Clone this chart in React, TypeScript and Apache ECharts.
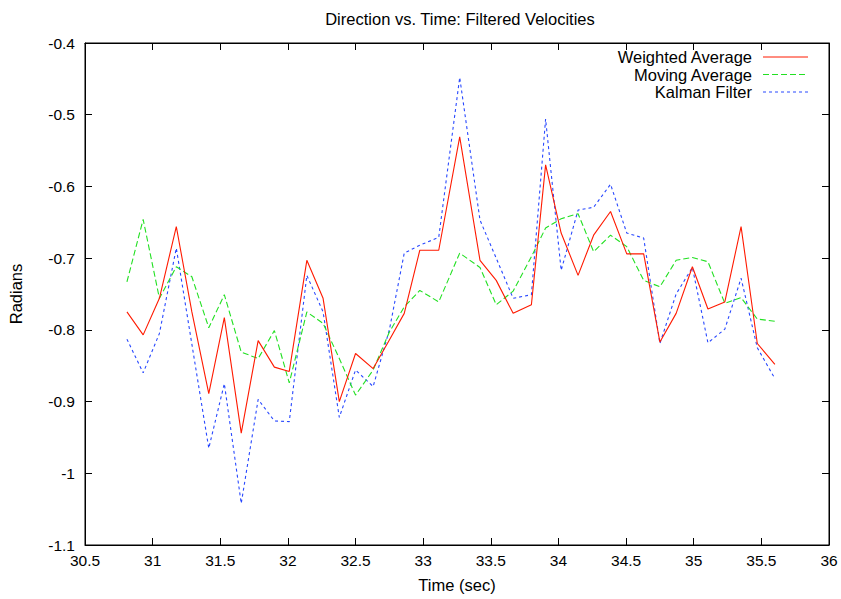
import React, { useEffect, useRef } from "react";
import * as echarts from "echarts";

const times = [
  30.81, 30.93, 31.05, 31.175, 31.29, 31.415, 31.53, 31.655, 31.78, 31.9,
  32.01, 32.14, 32.26, 32.38, 32.5, 32.63, 32.75, 32.86, 32.975, 33.115,
  33.27, 33.42, 33.54, 33.665, 33.8, 33.905, 34.02, 34.145, 34.26, 34.385,
  34.505, 34.63, 34.75, 34.87, 34.99, 35.105, 35.23, 35.35, 35.47, 35.6,
];

const weightedAverage = [
  -0.775, -0.807, -0.756, -0.656, -0.775, -0.889, -0.783, -0.944, -0.815, -0.852,
  -0.858, -0.703, -0.756, -0.9, -0.833, -0.854, -0.814, -0.777, -0.689, -0.689,
  -0.531, -0.703, -0.731, -0.777, -0.765, -0.57, -0.665, -0.724, -0.668, -0.635,
  -0.694, -0.694, -0.817, -0.777, -0.712, -0.771, -0.761, -0.656, -0.819, -0.848,
];

const movingAverage = [
  -0.733, -0.646, -0.756, -0.712, -0.726, -0.797, -0.751, -0.831, -0.84, -0.801,
  -0.874, -0.775, -0.791, -0.84, -0.891, -0.856, -0.803, -0.768, -0.745, -0.761,
  -0.693, -0.713, -0.765, -0.746, -0.698, -0.658, -0.645, -0.638, -0.691, -0.668,
  -0.684, -0.731, -0.74, -0.703, -0.699, -0.705, -0.763, -0.755, -0.785, -0.788,
];

const kalmanFilter = [
  -0.813, -0.86, -0.805, -0.686, -0.82, -0.965, -0.875, -1.042, -0.897, -0.927,
  -0.928, -0.724, -0.775, -0.922, -0.856, -0.879, -0.8, -0.693, -0.682, -0.671,
  -0.448, -0.647, -0.7, -0.756, -0.751, -0.506, -0.717, -0.633, -0.629, -0.597,
  -0.665, -0.672, -0.819, -0.75, -0.713, -0.818, -0.799, -0.728, -0.825, -0.868,
];

const xTicks = { min: 30.5, max: 36, interval: 0.5 };
const yTicks = { min: -1.1, max: -0.4, interval: 0.1 };

const seriesNames = ["Weighted Average", "Moving Average", "Kalman Filter"];
const seriesColors = ["#ff1a00", "#22e022", "#2848ff"];
const seriesDash: (string | number[])[] = ["solid", [6, 3], [3, 3]];

const FONT = "Liberation Sans, Arial, Helvetica, sans-serif";

export default function App() {
  const ref = useRef<HTMLDivElement>(null);

  useEffect(() => {
    if (!ref.current) return;
    const chart = echarts.init(ref.current, null, { renderer: "svg" });
    const allSeries = [weightedAverage, movingAverage, kalmanFilter];

    const legendGraphics: any[] = [];
    seriesNames.forEach((name, i) => {
      const y = 57 + i * 17.5;
      legendGraphics.push({
        type: "text",
        x: 752,
        y,
        style: {
          text: name,
          fill: "#000",
          font: `16.5px ${FONT}`,
          textAlign: "right",
          textVerticalAlign: "middle",
        },
      });
      legendGraphics.push({
        type: "line",
        shape: { x1: 763, y1: y, x2: 808, y2: y },
        style: {
          stroke: seriesColors[i],
          lineWidth: 1,
          lineDash: seriesDash[i] === "solid" ? null : (seriesDash[i] as number[]),
        },
      });
    });

    const fmtY = (v: number) => String(Math.round(v * 10) / 10);
    const fmtX = (v: number) => String(Math.round(v * 10) / 10);

    chart.setOption({
      animation: false,
      backgroundColor: "#fff",
      textStyle: { fontFamily: FONT },
      title: {
        text: "Direction vs. Time: Filtered Velocities",
        left: 455,
        top: 5,
        textAlign: "center",
        textStyle: { fontSize: 16.5, fontWeight: "normal", color: "#000", fontFamily: FONT },
      },
      grid: {
        left: 85,
        right: 12,
        top: 43,
        bottom: 54,
        show: true,
        borderColor: "#000",
        borderWidth: 1,
        backgroundColor: "transparent",
        outerBoundsMode: "none",
        containLabel: false,
      },
      xAxis: [
        {
          type: "value",
          min: xTicks.min,
          max: xTicks.max,
          interval: xTicks.interval,
          name: "Time (sec)",
          nameLocation: "middle",
          nameGap: 31,
          nameMoveOverlap: false,
          nameTextStyle: { fontSize: 16.5, color: "#000", fontFamily: FONT },
          axisLine: { show: true, lineStyle: { color: "#000", width: 1 } },
          axisTick: { show: true, inside: true, length: 7, lineStyle: { color: "#000" } },
          axisLabel: { color: "#000", fontSize: 15.5, margin: 7, formatter: fmtX, fontFamily: FONT },
          splitLine: { show: false },
        },
        {
          type: "value",
          position: "top",
          min: xTicks.min,
          max: xTicks.max,
          interval: xTicks.interval,
          axisLine: { show: true, lineStyle: { color: "#000", width: 1 } },
          axisTick: { show: true, inside: true, length: 7, lineStyle: { color: "#000" } },
          axisLabel: { show: false },
          splitLine: { show: false },
        },
      ],
      yAxis: [
        {
          type: "value",
          min: yTicks.min,
          max: yTicks.max,
          interval: yTicks.interval,
          name: "Radians",
          nameLocation: "middle",
          nameRotate: 90,
          nameGap: 61,
          nameMoveOverlap: false,
          nameTextStyle: { fontSize: 16.5, color: "#000", fontFamily: FONT },
          axisLine: { show: true, lineStyle: { color: "#000", width: 1 } },
          axisTick: { show: true, inside: true, length: 7, lineStyle: { color: "#000" } },
          axisLabel: { color: "#000", fontSize: 15.5, margin: 10, formatter: fmtY, fontFamily: FONT },
          splitLine: { show: false },
        },
        {
          type: "value",
          position: "right",
          min: yTicks.min,
          max: yTicks.max,
          interval: yTicks.interval,
          axisLine: { show: true, lineStyle: { color: "#000", width: 1 } },
          axisTick: { show: true, inside: true, length: 7, lineStyle: { color: "#000" } },
          axisLabel: { show: false },
          splitLine: { show: false },
        },
      ],
      graphic: legendGraphics,
      series: allSeries.map((vals, i) => ({
        name: seriesNames[i],
        type: "line",
        xAxisIndex: 0,
        yAxisIndex: 0,
        showSymbol: false,
        symbol: "none",
        data: times.map((t, k) => [t, vals[k]]),
        lineStyle: { color: seriesColors[i], width: 1.1, type: seriesDash[i] },
        itemStyle: { color: seriesColors[i] },
        z: 3 - i,
      })),
    });

    return () => chart.dispose();
  }, []);

  return (
    <div
      ref={ref}
      style={{ position: "fixed", left: 0, top: 0, width: 841, height: 599 }}
    />
  );
}
